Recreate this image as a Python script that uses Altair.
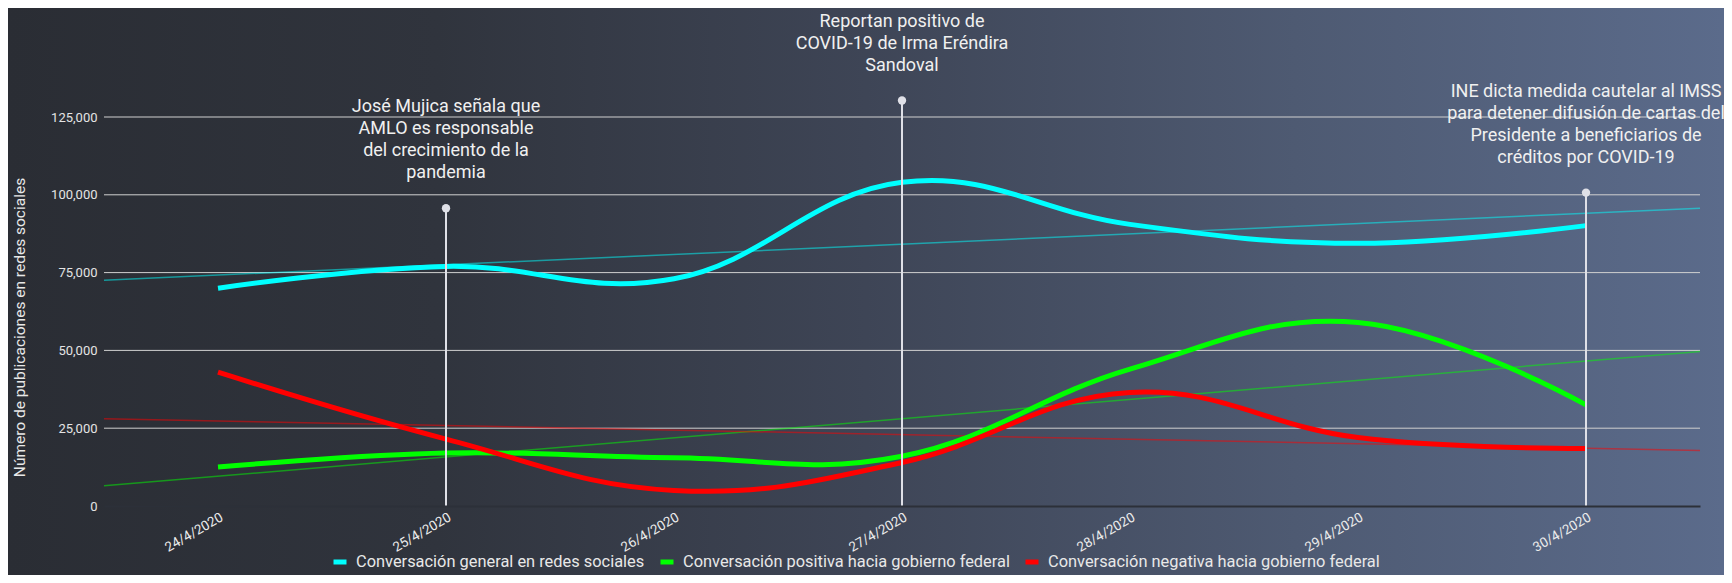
import altair as alt
import pandas as pd

fechas = ["24/4/2020", "25/4/2020", "26/4/2020", "27/4/2020", "28/4/2020", "29/4/2020", "30/4/2020"]
series = [
    "Conversación general en redes sociales",
    "Conversación positiva hacia gobierno federal",
    "Conversación negativa hacia gobierno federal",
]
general = [70000, 77000, 73000, 104000, 90500, 84400, 90100]
positiva = [12500, 17000, 15500, 16000, 44000, 59000, 32500]
negativa = [43000, 21500, 5000, 14000, 36500, 22000, 18500]
colores = ["#00FFFF", "#00FF00", "#FF0000"]
y_ticks = [0, 25000, 50000, 75000, 100000, 125000]

evento_fecha = ["25/4/2020", "27/4/2020", "30/4/2020"]
evento_altura = [95700, 130300, 100700]
evento_texto = [
    "José Mujica señala que\nAMLO es responsable\ndel crecimiento de la\npandemia",
    "Reportan positivo de\nCOVID-19 de Irma Eréndira\nSandoval",
    "INE dicta medida cautelar al IMSS\npara detener difusión de cartas del\nPresidente a beneficiarios de\ncréditos por COVID-19",
]

W, H = 1596, 389
PAD = {"left": 96, "top": 109, "right": 24, "bottom": 69}
LINE_H = 22

rows = []
for nombre, vals in zip(series, [general, positiva, negativa]):
    for i, (f, v) in enumerate(zip(fechas, vals)):
        rows.append({"dia": i, "fecha": f, "serie": nombre, "valor": v})
df = pd.DataFrame(rows)

ev = pd.DataFrame({
    "dia": [fechas.index(f) for f in evento_fecha],
    "altura": evento_altura,
})

ev_lines = []
for f, a, t in zip(evento_fecha, evento_altura, evento_texto):
    partes = t.split("\n")
    for k, p in enumerate(partes):
        ev_lines.append({"dia": fechas.index(f), "altura": a, "linea": p,
                         "k": k, "n": len(partes)})
ev_txt = pd.DataFrame(ev_lines)

xscale = alt.Scale(domain=[-0.5, 6.5], nice=False, zero=False)
yscale = alt.Scale(domain=[0, 125000], nice=False)
cscale = alt.Scale(domain=series, range=colores)

label_js = "[" + ",".join('"%s"' % f for f in fechas) + "][datum.value]"

xaxis = alt.Axis(
    values=list(range(len(fechas))), labelExpr=label_js, title=None,
    grid=False, ticks=False, domainColor="#2c3039", domainWidth=2,
    labelAngle=-30, labelAlign="right", labelBaseline="top",
    labelFont="Roboto", labelFontSize=13.5, labelColor="#ececec",
    labelPadding=4, labelOverlap=False, zindex=1,
)
yaxis = alt.Axis(
    values=y_ticks, format=",d", grid=False, ticks=False, domain=False,
    labelFont="Roboto", labelFontSize=13, labelColor="#e4e4e4", labelPadding=7,
    title="Número de publicaciones en redes sociales",
    titleFont="Roboto", titleFontSize=15.5, titleFontWeight="normal",
    titleColor="#e8e8e8", titleX=-85, titleY=210, titleAngle=-90,
    titleAlign="center", titleBaseline="middle", zindex=1,
)
legend = alt.Legend(
    orient="none", legendX=227, legendY=436, direction="horizontal",
    title=None, symbolType="stroke", symbolSize=169, symbolStrokeWidth=5,
    symbolOpacity=1, labelLimit=0,
    labelFont="Roboto", labelFontSize=16.4, labelColor="#e8e8e8",
    columnPadding=5, labelOffset=7, zindex=1,
)

bg = alt.Chart(alt.Data(values=[{"a": 1}])).mark_rect(
    fill={
        "gradient": "linear", "x1": 0, "y1": 0, "x2": 1, "y2": 0,
        "stops": [
            {"offset": 0, "color": "#2a2d34"},
            {"offset": 0.25, "color": "#30343d"},
            {"offset": 0.5, "color": "#3e4556"},
            {"offset": 0.75, "color": "#4e5a72"},
            {"offset": 1, "color": "#5b6b8b"},
        ],
    }
).encode(
    x=alt.value(-PAD["left"]), x2=alt.value(W + PAD["right"]),
    y=alt.value(-PAD["top"]), y2=alt.value(H + PAD["bottom"]),
)

grid = alt.Chart(pd.DataFrame({"v": y_ticks[1:]})).mark_rule(
    color="#d0d0d0", strokeWidth=1
).encode(
    y=alt.Y("v:Q", scale=yscale, axis=yaxis),
    x=alt.value(0), x2=alt.value(W),
)

base = alt.Chart(df)

lines = base.mark_line(interpolate="cardinal", tension=-0.2, strokeWidth=5).encode(
    x=alt.X("dia:Q", scale=xscale, axis=xaxis),
    y=alt.Y("valor:Q", scale=yscale, axis=yaxis),
    color=alt.Color("serie:N", scale=cscale, sort=series, legend=legend),
)

trend = base.transform_regression(
    "dia", "valor", groupby=["serie"], extent=[-0.5, 6.5]
).mark_line(strokeWidth=1.5, opacity=0.5).encode(
    x=alt.X("dia:Q", scale=xscale, axis=xaxis),
    y=alt.Y("valor:Q", scale=yscale, axis=yaxis),
    color=alt.Color("serie:N", scale=cscale, sort=series, legend=legend),
)

ev_base = alt.Chart(ev)
rules = ev_base.mark_rule(color="#dfe0e7", strokeWidth=2).encode(
    x=alt.X("dia:Q", scale=xscale, axis=xaxis),
    y=alt.Y("altura:Q", scale=yscale, axis=yaxis),
    y2=alt.datum(0),
)
dots = ev_base.mark_point(filled=True, size=70, color="#dfe0e7", opacity=1).encode(
    x=alt.X("dia:Q", scale=xscale, axis=xaxis),
    y=alt.Y("altura:Q", scale=yscale, axis=yaxis),
)
texts = alt.Chart(ev_txt).transform_calculate(
    ytxt="datum.altura + (datum.n - 1 - datum.k) * %d / %d * 125000" % (LINE_H, H)
).mark_text(
    font="Roboto", fontSize=18, color="#f0f0f0",
    align="center", baseline="alphabetic", dy=-30,
).encode(
    x=alt.X("dia:Q", scale=xscale, axis=xaxis),
    y=alt.Y("ytxt:Q", scale=yscale, axis=yaxis),
    text="linea:N",
)

chart = alt.layer(bg, grid, trend, lines, rules, dots, texts).properties(
    width=W, height=H, padding=PAD,
    autosize=alt.AutoSizeParams(type="none"),
    background="#2a2d34",
).configure_view(stroke=None)

chart.save("out.html", embed_options={"renderer": "svg", "actions": False})
